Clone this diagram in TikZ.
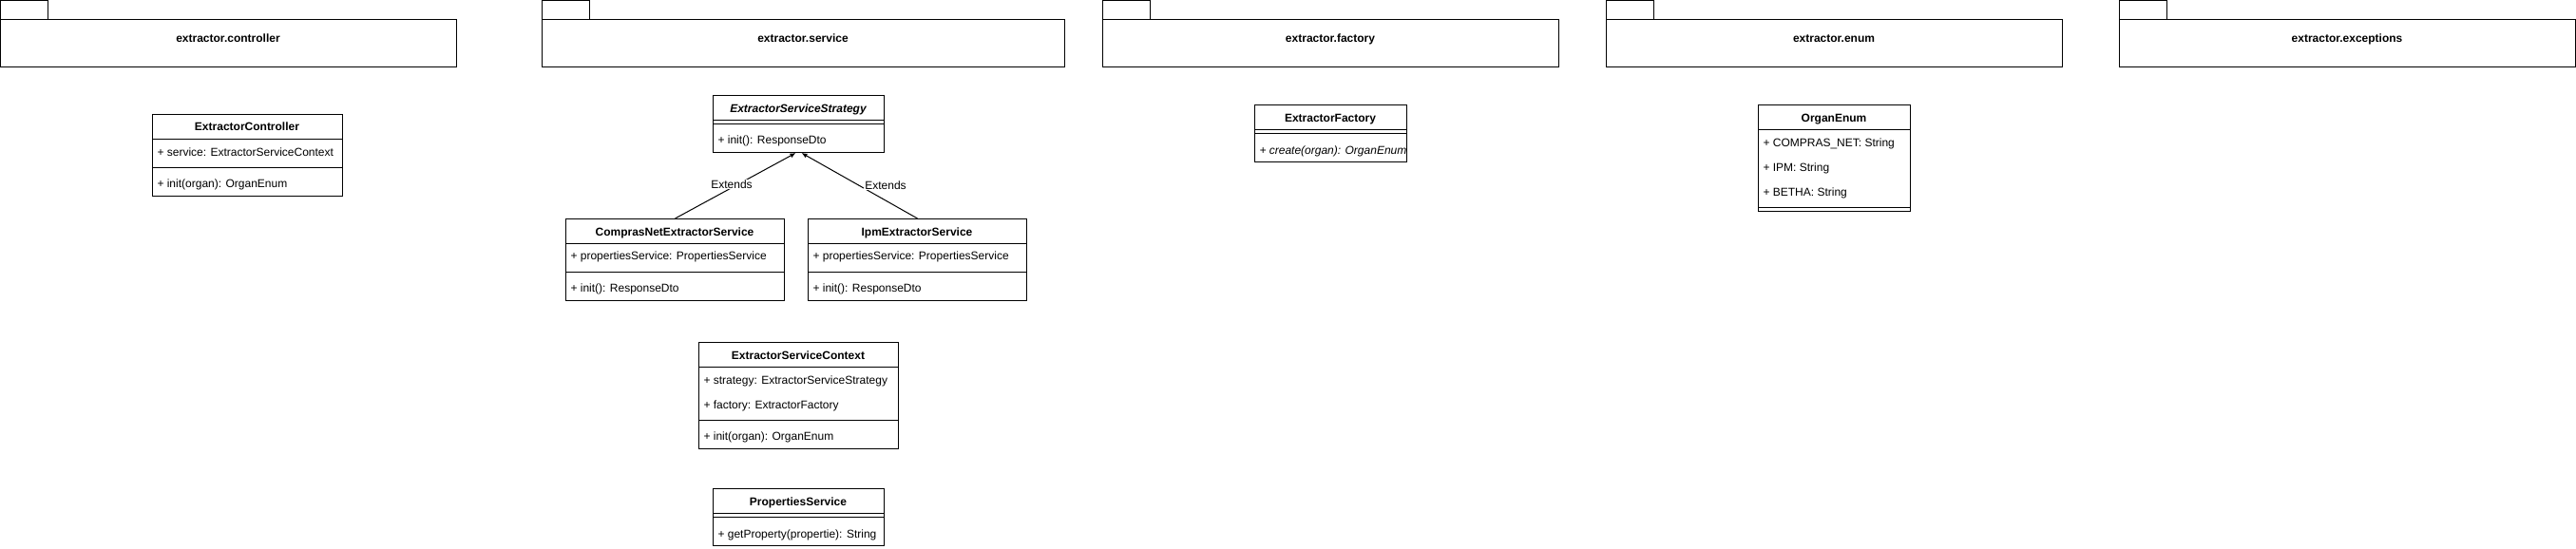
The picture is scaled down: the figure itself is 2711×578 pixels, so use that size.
\documentclass[tikz,border=0pt]{standalone}
\usepackage{fontspec}
\setmainfont{Liberation Sans}
\usetikzlibrary{arrows.meta}
\begin{document}
\begin{tikzpicture}[x=1pt,y=-1pt,>={Latex[length=6pt,width=5pt]},line width=1pt,
  boite/.style={draw,inner sep=0pt,anchor=north west},
  titre/.style={font=\fontsize{12}{14}\selectfont\bfseries,text height=8.6pt,text depth=0pt,inner sep=0pt},
  champ/.style={font=\fontsize{12}{14}\selectfont,anchor=west,text height=8.6pt,text depth=0pt,inner sep=0pt},
  etiquette/.style={font=\fontsize{12}{14}\selectfont,fill=white,text height=8.6pt,text depth=0pt,inner sep=1pt}]
\useasboundingbox (0,0) rectangle (2711,578);

%les paquets
\node[boite,minimum width=50pt,minimum height=20pt] (ongletctrl) at (0,0) {};
\node[boite,minimum width=480pt,minimum height=50pt] (pkgctrl) at (0,20) {};
\node[titre] (nomctrl) at (240,40) {extractor.controller};

\node[boite,minimum width=50pt,minimum height=20pt] (ongletservice) at (570,0) {};
\node[boite,minimum width=550pt,minimum height=50pt] (pkgservice) at (570,20) {};
\node[titre] (nomservice) at (845,40) {extractor.service};

\node[boite,minimum width=50pt,minimum height=20pt] (ongletfactory) at (1160,0) {};
\node[boite,minimum width=480pt,minimum height=50pt] (pkgfactory) at (1160,20) {};
\node[titre] (nomfactory) at (1400,40) {extractor.factory};

\node[boite,minimum width=50pt,minimum height=20pt] (ongletenum) at (1690,0) {};
\node[boite,minimum width=480pt,minimum height=50pt] (pkgenum) at (1690,20) {};
\node[titre] (nomenum) at (1930,40) {extractor.enum};

\node[boite,minimum width=50pt,minimum height=20pt] (ongletexc) at (2230,0) {};
\node[boite,minimum width=480pt,minimum height=50pt] (pkgexc) at (2230,20) {};
\node[titre] (nomexc) at (2470,40) {extractor.exceptions};

%ExtractorController
\node[boite,minimum width=200pt,minimum height=86pt] (ctrl) at (160,120) {};
\node[titre] (ctrlnom) at (260,133) {ExtractorController};
\draw (160,146) -- (360,146);
\node[champ] (ctrlservice) at (165,160) {+ service: ExtractorServiceContext};
\draw (160,176) -- (360,176);
\node[champ] (ctrlinit) at (165,193) {+ init(organ): OrganEnum};

%ExtractorServiceStrategy
\node[boite,minimum width=180pt,minimum height=60pt] (strat) at (750,100) {};
\node[titre,font=\fontsize{12}{14}\selectfont\bfseries\itshape] (stratnom) at (840,114) {ExtractorServiceStrategy};
\draw (750,126) -- (930,126);
\draw (750,130) -- (930,130);
\node[champ] (stratinit) at (755,147) {+ init(): ResponseDto};

%ComprasNetExtractorService
\node[boite,minimum width=230pt,minimum height=86pt] (compras) at (595,230) {};
\node[titre] (comprasnom) at (710,244) {ComprasNetExtractorService};
\draw (595,256) -- (825,256);
\node[champ] (comprasprop) at (600,269) {+ propertiesService: PropertiesService};
\draw (595,286) -- (825,286);
\node[champ] (comprasinit) at (600,303) {+ init(): ResponseDto};

%IpmExtractorService
\node[boite,minimum width=230pt,minimum height=86pt] (ipm) at (850,230) {};
\node[titre] (ipmnom) at (965,244) {IpmExtractorService};
\draw (850,256) -- (1080,256);
\node[champ] (ipmprop) at (855,269) {+ propertiesService: PropertiesService};
\draw (850,286) -- (1080,286);
\node[champ] (ipminit) at (855,303) {+ init(): ResponseDto};

%les heritages
\draw[->] (compras.north) -- ([xshift=-3pt]strat.south);
\draw[->] (ipm.north) -- ([xshift=3pt]strat.south);
\node[etiquette] (extgauche) at (770,194) {Extends};
\node[etiquette] (extdroite) at (932,195) {Extends};

%ExtractorServiceContext
\node[boite,minimum width=210pt,minimum height=112pt] (ctx) at (735,360) {};
\node[titre] (ctxnom) at (840,374) {ExtractorServiceContext};
\draw (735,386) -- (945,386);
\node[champ] (ctxstrat) at (740,400) {+ strategy: ExtractorServiceStrategy};
\node[champ] (ctxfact) at (740,426) {+ factory: ExtractorFactory};
\draw (735,442) -- (945,442);
\node[champ] (ctxinit) at (740,459) {+ init(organ): OrganEnum};

%PropertiesService
\node[boite,minimum width=180pt,minimum height=60pt] (props) at (750,514) {};
\node[titre] (propsnom) at (840,528) {PropertiesService};
\draw (750,540) -- (930,540);
\draw (750,544) -- (930,544);
\node[champ] (propsget) at (755,562) {+ getProperty(propertie): String};

%ExtractorFactory
\node[boite,minimum width=160pt,minimum height=60pt] (fact) at (1320,110) {};
\node[titre] (factnom) at (1400,124) {ExtractorFactory};
\draw (1320,136) -- (1480,136);
\draw (1320,140) -- (1480,140);
\begin{scope}
\clip (1320,141) rectangle (1479,169);
\node[champ,font=\fontsize{12}{14}\selectfont\itshape] (factcreate) at (1325,158) {+ create(organ): OrganEnum};
\end{scope}

%OrganEnum
\node[boite,minimum width=160pt,minimum height=112pt] (organ) at (1850,110) {};
\node[titre] (organnom) at (1930,124) {OrganEnum};
\draw (1850,136) -- (2010,136);
\node[champ] (organcompras) at (1855,150) {+ COMPRAS\_NET: String};
\node[champ] (organipm) at (1855,176) {+ IPM: String};
\node[champ] (organbetha) at (1855,202) {+ BETHA: String};
\draw (1850,218) -- (2010,218);

\end{tikzpicture}
\end{document}
